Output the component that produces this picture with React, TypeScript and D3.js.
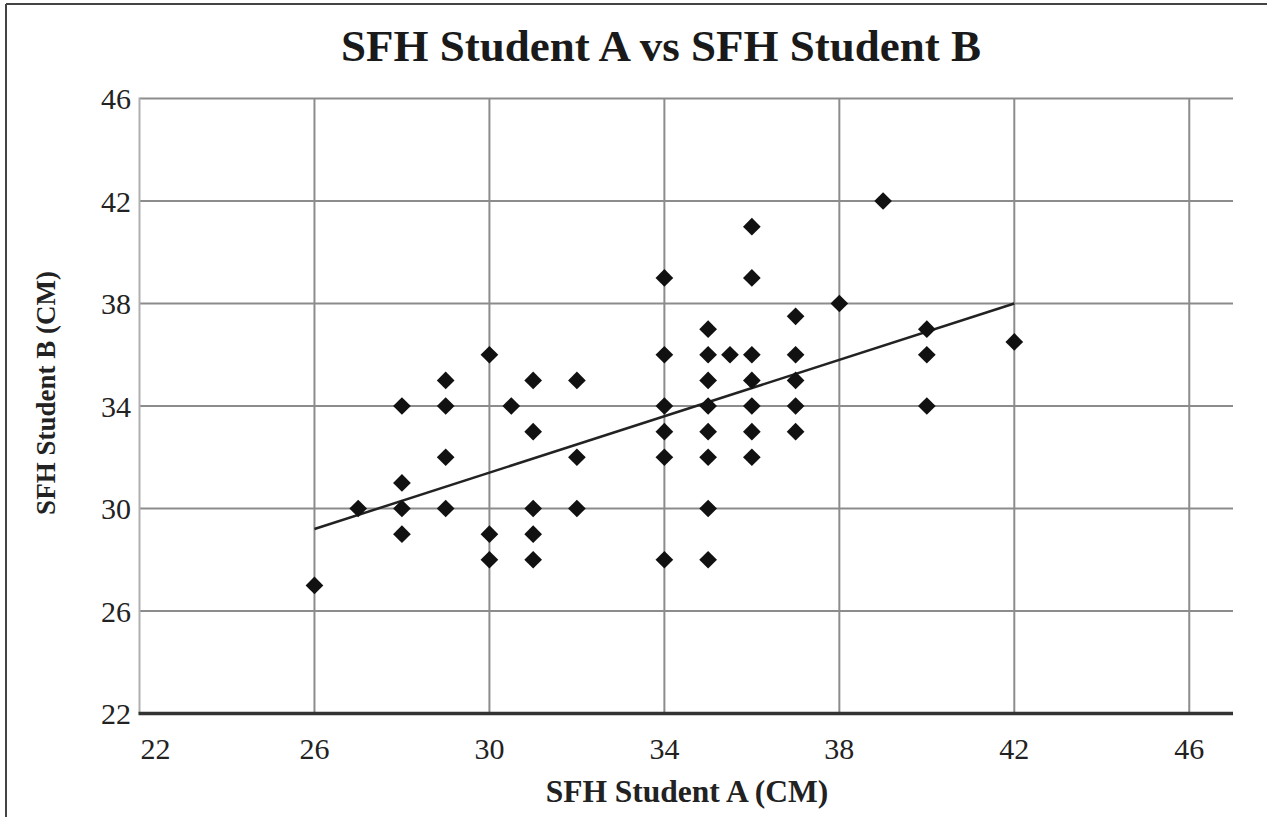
import React from "react";
import * as d3 from "d3";

const studentA: number[] = [
  26, 27,
  28, 28, 28, 28,
  29, 29, 29, 29,
  30, 30, 30,
  30.5,
  31, 31, 31, 31, 31,
  32, 32, 32,
  34, 34, 34, 34, 34, 34,
  35, 35, 35, 35, 35, 35, 35, 35,
  35.5,
  36, 36, 36, 36, 36, 36, 36,
  37, 37, 37, 37, 37,
  38, 39,
  40, 40, 40,
  42,
];
const studentB: number[] = [
  27, 30,
  34, 31, 30, 29,
  35, 34, 32, 30,
  36, 29, 28,
  34,
  35, 33, 30, 29, 28,
  35, 32, 30,
  39, 36, 34, 33, 32, 28,
  37, 36, 35, 34, 33, 32, 30, 28,
  36,
  41, 39, 36, 35, 34, 33, 32,
  37.5, 36, 35, 34, 33,
  38, 42,
  37, 36, 34,
  36.5,
];
const trendX: number[] = [26, 42];
const trendY: number[] = [29.2, 38];
const xTicks: number[] = [22, 26, 30, 34, 38, 42, 46];
const yTicks: number[] = [22, 26, 30, 34, 38, 42, 46];

const W = 1267;
const H = 817;
const FONT = "'Liberation Serif', 'DejaVu Serif', serif";

export default function App() {
  const x = d3.scaleLinear().domain([22, 47]).range([139.5, 1233]);
  const y = d3.scaleLinear().domain([22, 46]).range([713.5, 98.5]);
  const diamond = d3.symbol().type(d3.symbolDiamond2).size(200)() as string;
  const trend = d3
    .line<number>()
    .x((d) => x(d))
    .y((_, i) => y(trendY[i]))(trendX) as string;

  return (
    <svg
      width={W}
      height={H}
      style={{ position: "absolute", left: 0, top: 0, background: "#fff" }}
    >
      {/* frame */}
      <line x1={6} y1={4} x2={W} y2={4} stroke="#444" strokeWidth={2} />
      <line x1={6} y1={4} x2={6} y2={H} stroke="#444" strokeWidth={2} />

      <text
        x={661}
        y={61}
        textAnchor="middle"
        fontFamily={FONT}
        fontWeight="bold"
        fontSize={45}
        fill="#1a1a1a"
      >
        SFH Student A vs SFH Student B
      </text>

      {/* horizontal gridlines */}
      {yTicks.slice(1).map((t) => (
        <line
          key={"h" + t}
          x1={x(22)}
          x2={1233}
          y1={y(t)}
          y2={y(t)}
          stroke="#8c8c8c"
          strokeWidth={2}
        />
      ))}
      {/* vertical gridlines */}
      {xTicks.slice(1).map((t) => (
        <line
          key={"v" + t}
          x1={x(t)}
          x2={x(t)}
          y1={y(46)}
          y2={y(22)}
          stroke="#8c8c8c"
          strokeWidth={2}
        />
      ))}
      {/* y axis */}
      <line x1={x(22)} x2={x(22)} y1={y(46) - 1} y2={y(22)} stroke="#b0b0b0" strokeWidth={2} />
      {/* x axis */}
      <line x1={x(22) - 1} x2={1233} y1={y(22)} y2={y(22)} stroke="#333" strokeWidth={3.5} />

      {/* y tick labels */}
      {yTicks.map((t) => (
        <text
          key={"yl" + t}
          x={131}
          y={y(t)}
          dy="0.35em"
          textAnchor="end"
          fontFamily={FONT}
          fontSize={30}
          fill="#222"
        >
          {t}
        </text>
      ))}
      {/* x tick labels */}
      {xTicks.map((t) => (
        <text
          key={"xl" + t}
          x={t === 22 ? x(t) + 16 : x(t)}
          y={759}
          textAnchor="middle"
          fontFamily={FONT}
          fontSize={30}
          fill="#222"
        >
          {t}
        </text>
      ))}

      <text
        x={687}
        y={802}
        textAnchor="middle"
        fontFamily={FONT}
        fontWeight="bold"
        fontSize={31.5}
        fill="#222"
      >
        SFH Student A (CM)
      </text>
      <text
        transform={`translate(55,393) rotate(-90)`}
        textAnchor="middle"
        fontFamily={FONT}
        fontWeight="bold"
        fontSize={27}
        fill="#222"
      >
        SFH Student B (CM)
      </text>

      {/* trend line */}
      <path d={trend} fill="none" stroke="#222" strokeWidth={2.5} />

      {/* points */}
      {studentA.map((a, i) => (
        <path
          key={"p" + i}
          d={diamond}
          transform={`translate(${x(a)},${y(studentB[i])})`}
          fill="#111"
        />
      ))}
    </svg>
  );
}
